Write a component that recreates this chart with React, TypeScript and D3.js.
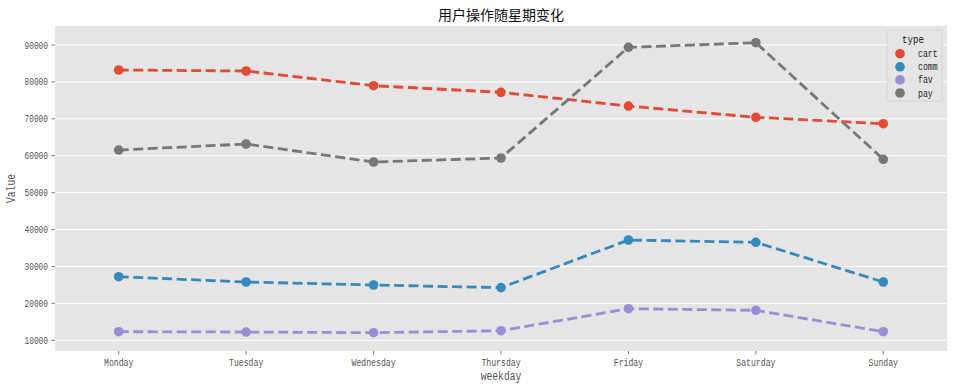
import React, { useEffect, useRef } from "react";
import * as d3 from "d3";

const weekdays = ["Monday", "Tuesday", "Wednesday", "Thursday", "Friday", "Saturday", "Sunday"];
const types = ["cart", "comm", "fav", "pay"];
const cart = [83230, 82960, 78970, 77180, 73470, 70410, 68680];
const comm = [27230, 25790, 24980, 24260, 37170, 36550, 25790];
const fav = [12330, 12240, 12060, 12600, 18560, 18120, 12330];
const pay = [61550, 63180, 58300, 59390, 89370, 90620, 59030];
const yTicks = [10000, 20000, 30000, 40000, 50000, 60000, 70000, 80000, 90000];
const colors = ["#E24A33", "#348ABD", "#988ED5", "#777777"];

const W = 954, H = 388;
const margin = { top: 26, right: 7, bottom: 37, left: 55 };
const width = W - margin.left - margin.right;
const height = H - margin.top - margin.bottom;
const mono = "'Liberation Mono', 'DejaVu Sans Mono', monospace";
const cjk = "'Noto Sans CJK SC', sans-serif";

export default function App() {
  const ref = useRef<SVGSVGElement>(null);

  useEffect(() => {
    const svg = d3.select(ref.current);
    svg.selectAll("*").remove();

    const x = d3.scaleLinear().domain([-0.5, weekdays.length - 0.5]).range([0, width]);
    const y = d3.scaleLinear().domain([7100, 95150]).range([height, 0]);

    const g = svg.append("g").attr("transform", `translate(${margin.left},${margin.top})`);

    g.append("rect").attr("width", width).attr("height", height).attr("fill", "#E5E5E5");

    // grid
    g.selectAll("line.grid")
      .data(yTicks)
      .enter()
      .append("line")
      .attr("x1", 0)
      .attr("x2", width)
      .attr("y1", (d) => y(d))
      .attr("y2", (d) => y(d))
      .attr("stroke", "#ffffff")
      .attr("stroke-width", 1);

    // y ticks
    const yt = g.selectAll("g.yt").data(yTicks).enter().append("g")
      .attr("transform", (d) => `translate(0,${y(d)})`);
    yt.append("line").attr("x1", -3.5).attr("x2", 0).attr("stroke", "#555555").attr("stroke-width", 0.8);
    yt.append("text")
      .attr("x", -7)
      .attr("dy", "0.35em")
      .attr("text-anchor", "end")
      .attr("font-family", mono)
      .attr("font-size", 10)
      .attr("textLength", 23.5)
      .attr("lengthAdjust", "spacingAndGlyphs")
      .attr("fill", "#555555")
      .text((d) => d);

    // x ticks
    const xt = g.selectAll("g.xt").data(weekdays).enter().append("g")
      .attr("transform", (d, i) => `translate(${x(i)},${height})`);
    xt.append("line").attr("y1", 0).attr("y2", 3.5).attr("stroke", "#555555").attr("stroke-width", 0.8);
    xt.append("text")
      .attr("y", 15)
      .attr("text-anchor", "middle")
      .attr("font-family", mono)
      .attr("font-size", 10)
      .attr("textLength", (d) => d.length * 4.9)
      .attr("lengthAdjust", "spacingAndGlyphs")
      .attr("fill", "#555555")
      .text((d) => d);

    // series
    const series = [cart, comm, fav, pay];
    const line = d3.line<number>().x((d, i) => x(i)).y((d) => y(d));
    series.forEach((vals, si) => {
      g.append("path")
        .datum(vals)
        .attr("fill", "none")
        .attr("stroke", colors[si])
        .attr("stroke-width", 2.8)
        .attr("stroke-dasharray", "10,4.5")
        .attr("d", line);
      g.selectAll(`circle.s${si}`)
        .data(vals)
        .enter()
        .append("circle")
        .attr("cx", (d, i) => x(i))
        .attr("cy", (d) => y(d))
        .attr("r", 4.8)
        .attr("fill", colors[si]);
    });

    // title
    svg.append("text")
      .attr("x", margin.left + width / 2)
      .attr("y", 20)
      .attr("text-anchor", "middle")
      .attr("font-family", cjk)
      .attr("font-size", 14)
      .attr("fill", "#111111")
      .text("用户操作随星期变化");

    // axis labels
    svg.append("text")
      .attr("x", margin.left + width / 2)
      .attr("y", 380)
      .attr("text-anchor", "middle")
      .attr("font-family", mono)
      .attr("font-size", 12)
      .attr("textLength", 40.5)
      .attr("lengthAdjust", "spacingAndGlyphs")
      .attr("fill", "#555555")
      .text("weekday");
    svg.append("text")
      .attr("transform", `translate(15,${margin.top + height / 2}) rotate(-90)`)
      .attr("text-anchor", "middle")
      .attr("font-family", mono)
      .attr("font-size", 12)
      .attr("textLength", 29)
      .attr("lengthAdjust", "spacingAndGlyphs")
      .attr("fill", "#555555")
      .text("Value");

    // legend
    const lg = svg.append("g").attr("transform", "translate(887,30)");
    lg.append("rect")
      .attr("width", 55)
      .attr("height", 71)
      .attr("rx", 2)
      .attr("fill", "#E5E5E5")
      .attr("stroke", "#d0d0d0")
      .attr("stroke-width", 0.8);
    lg.append("text")
      .attr("x", 26)
      .attr("y", 13)
      .attr("text-anchor", "middle")
      .attr("font-family", mono)
      .attr("font-size", 11)
      .attr("textLength", 22)
      .attr("lengthAdjust", "spacingAndGlyphs")
      .attr("fill", "#111111")
      .text("type");
    const items = lg.selectAll("g.item").data(types).enter().append("g")
      .attr("transform", (d, i) => `translate(0,${23.7 + i * 13.1})`);
    items.append("circle").attr("cx", 13).attr("r", 4.8).attr("fill", (d, i) => colors[i]);
    items.append("text")
      .attr("x", 31)
      .attr("dy", "0.35em")
      .attr("text-anchor", "start")
      .attr("font-family", mono)
      .attr("font-size", 10)
      .attr("textLength", (d) => d.length * 4.9)
      .attr("lengthAdjust", "spacingAndGlyphs")
      .attr("fill", "#222222")
      .text((d) => d);
  }, []);

  return (
    <svg
      ref={ref}
      width={W}
      height={H}
      style={{ position: "absolute", left: 0, top: 0, background: "#ffffff" }}
    />
  );
}
